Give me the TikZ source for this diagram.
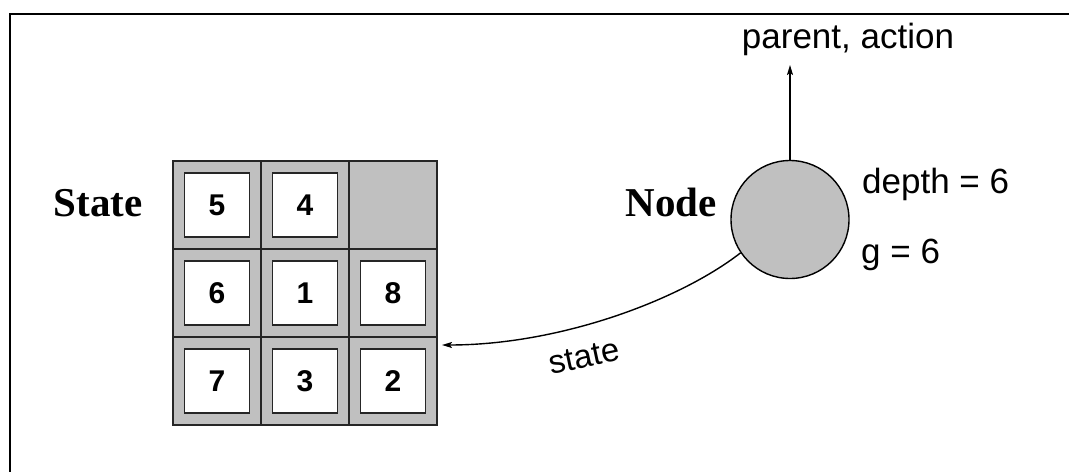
\documentclass[tikz,border=0pt]{standalone}
\usepackage{fontspec}
\setmainfont{Liberation Serif}
\newfontfamily\sansf{Liberation Sans}
\usetikzlibrary{arrows.meta}
\definecolor{tilegray}{HTML}{C0C0C0}
\begin{document}
\begin{tikzpicture}[x=1pt,y=-1pt,
  cell/.style={draw=black!85, line width=1.2pt, fill=tilegray, minimum width=88pt, minimum height=88pt, inner sep=0pt, outer sep=0pt},
  tile/.style={draw=black!85, line width=1.3pt, fill=white, minimum width=65pt, minimum height=64pt, inner sep=0pt, font=\sansf\bfseries\fontsize{30}{32}\selectfont},
  lbl/.style={font=\sansf\fontsize{35}{40}\selectfont, inner sep=0pt, anchor=base west},
  title/.style={font=\bfseries\fontsize{41}{46}\selectfont, inner sep=0pt, anchor=base east},
  conn/.style={line width=1.4pt, -{Stealth[length=10pt,width=6pt,inset=2pt]}}]
\useasboundingbox (0,0) rectangle (1069,472);
\draw[line width=2.6pt] (1069,14) -- (10,14) -- (10,472);
\foreach \r in {0,1,2} {
  \foreach \c in {0,1,2} {
    \node[cell] (c\r\c) at ({217+88*\c},{205+88*\r}) {};
  }
}
\node[tile] (t5) at (c00) {5};
\node[tile] (t4) at (c01) {4};
\node[tile] (t6) at (c10) {6};
\node[tile] (t1) at (c11) {1};
\node[tile] (t8) at (c12) {8};
\node[tile] (t7) at (c20) {7};
\node[tile] (t3) at (c21) {3};
\node[tile] (t2) at (c22) {2};
\node[title] (statelbl) at (143,216) {State};
\node[title] (nodelbl) at (717,216) {Node};
\node[circle, draw, fill=tilegray, line width=1.4pt, minimum size=118pt, inner sep=0pt] (node) at (790,219.5) {};
\coordinate (up) at (790,65);
\node[lbl, anchor=base] (pa) at (848,48) {parent, action};
\draw[conn] (node.north) -- (up);
\node[lbl] (depth) at (862,193) {depth = 6};
\node[lbl] (g) at (861,263) {g = 6};
\coordinate (tip) at (442,345);
\draw[conn] (node.214) .. controls (680,300) and (560,345) .. (tip);
\node[font=\sansf\fontsize{33}{36}\selectfont, rotate=12, inner sep=0pt] (statetxt) at (584,357) {state};
\end{tikzpicture}
\end{document}
